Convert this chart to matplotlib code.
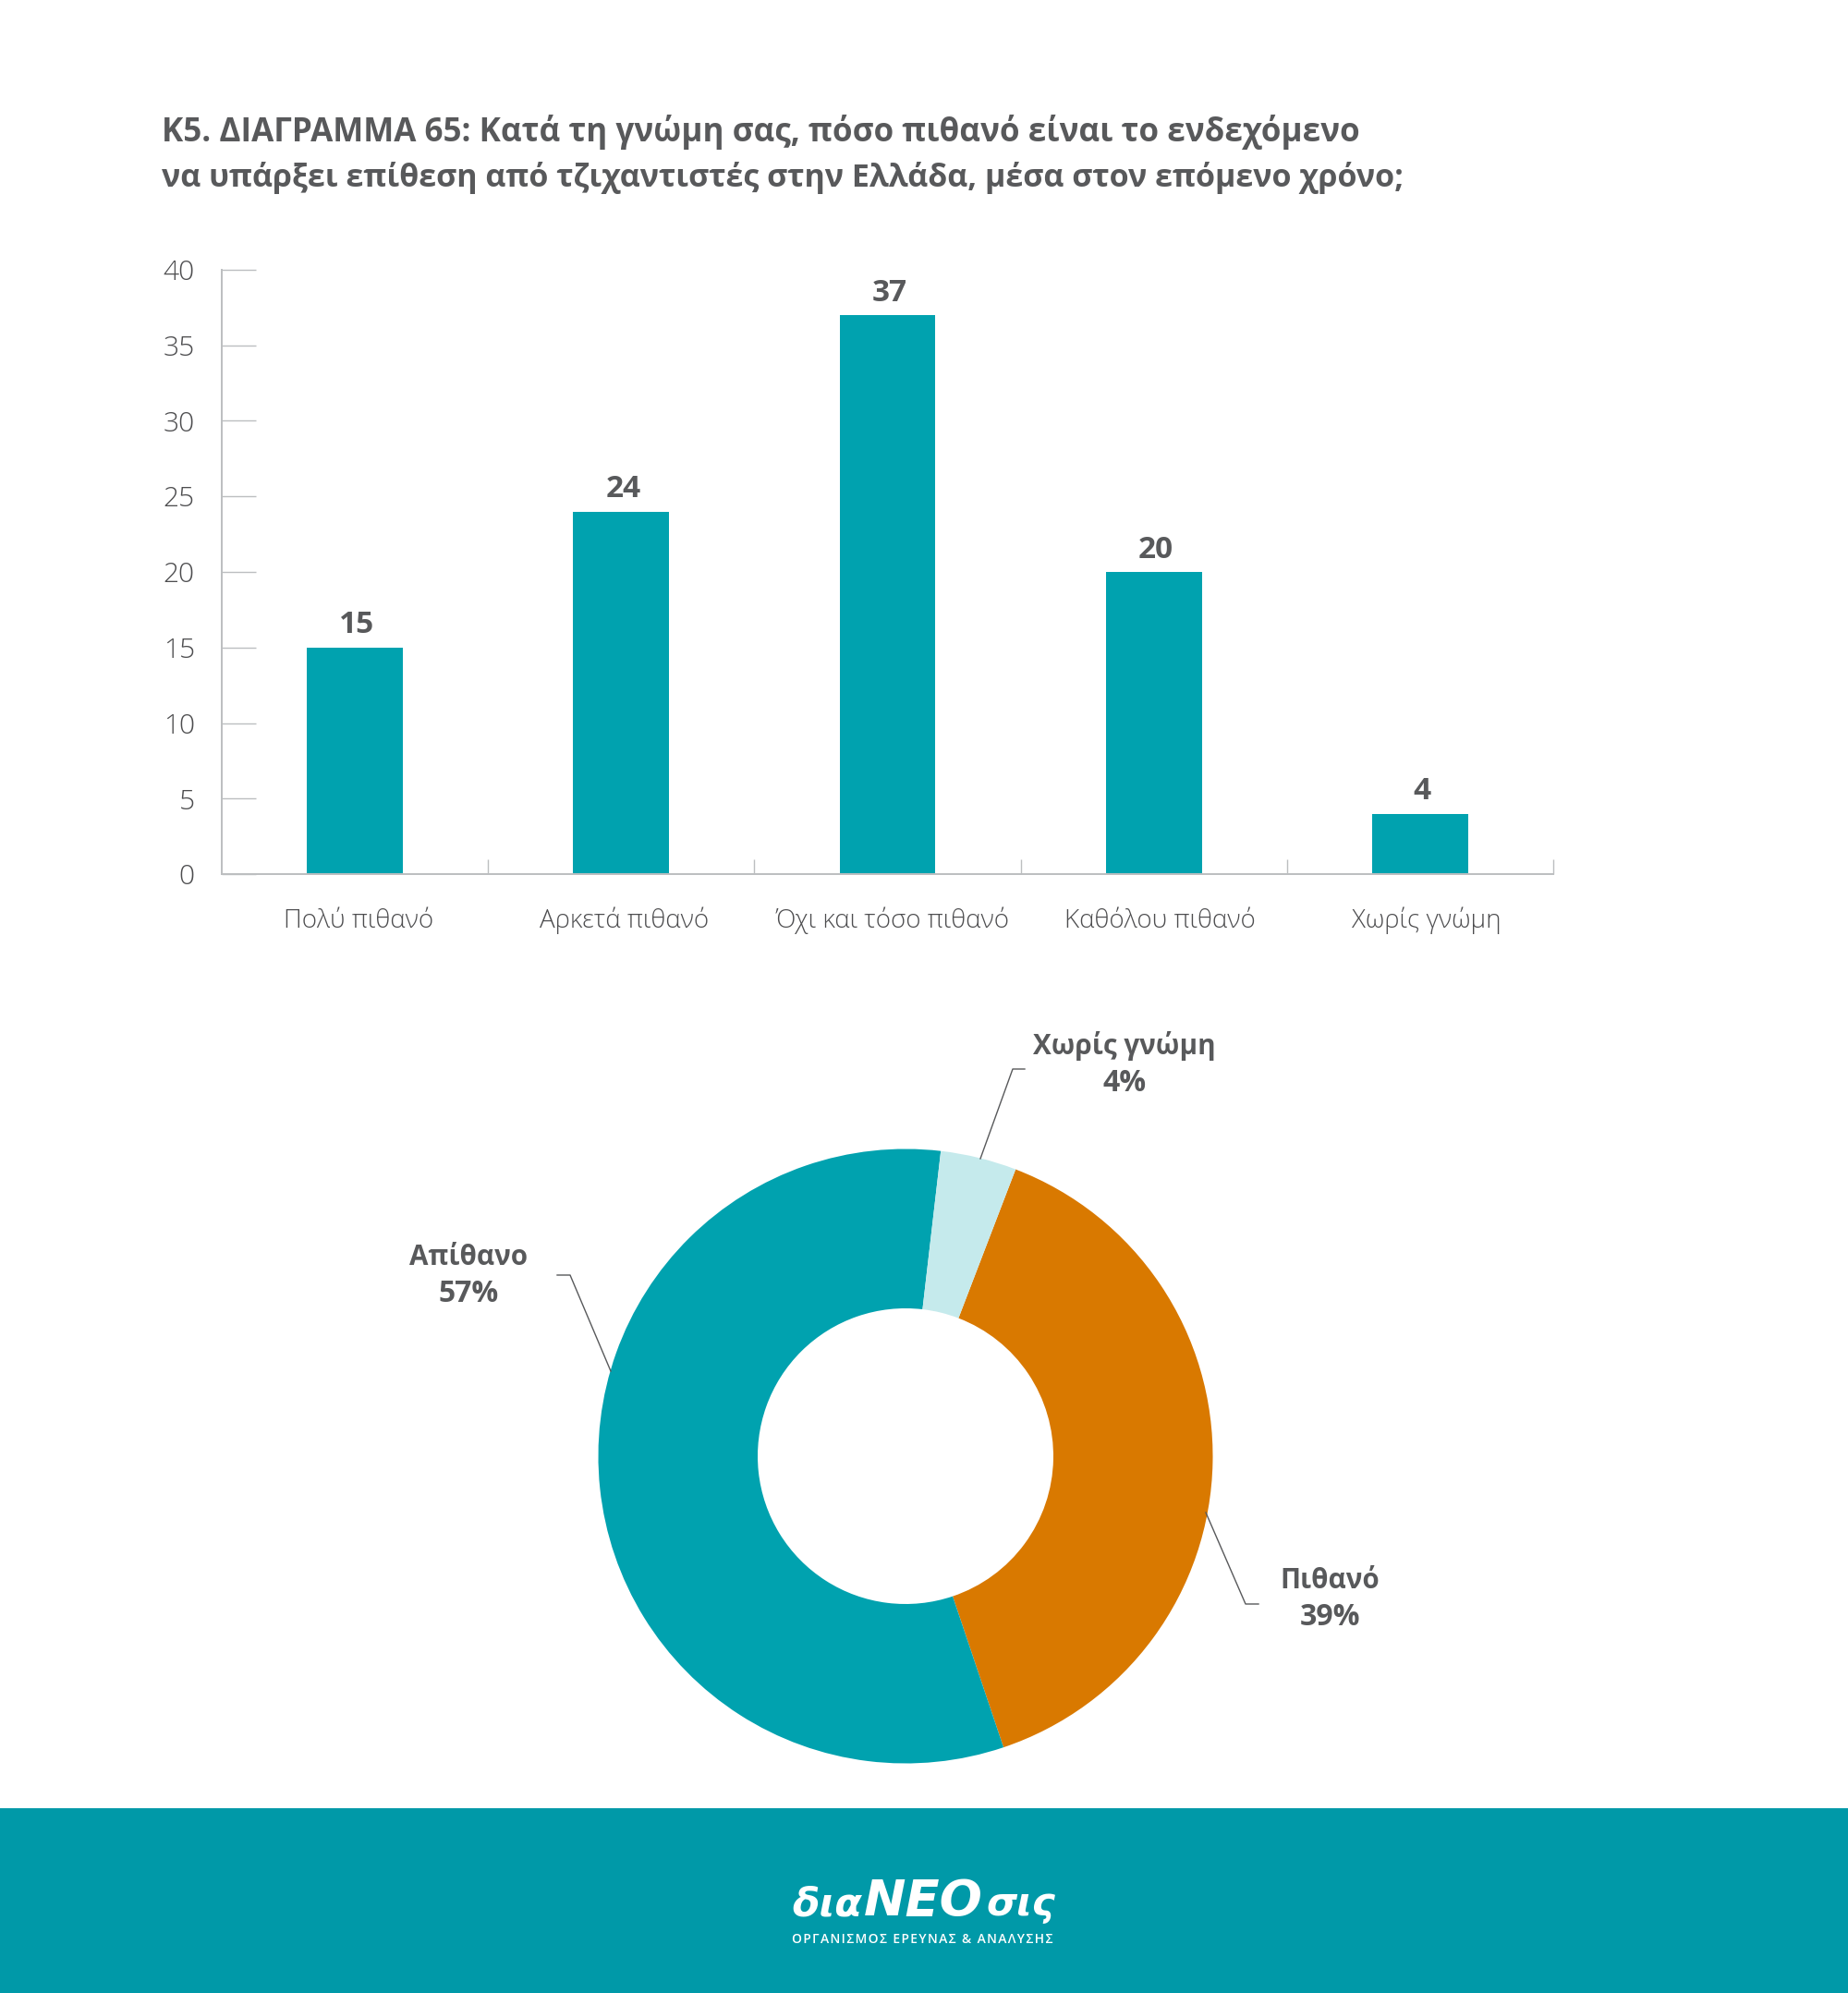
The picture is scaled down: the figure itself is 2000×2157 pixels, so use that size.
import matplotlib
matplotlib.use("Agg")
import matplotlib.pyplot as plt
from matplotlib.transforms import ScaledTranslation

W, H = 2000, 2157
DPI = 100

title_lines = ["Κ5. ΔΙΑΓΡΑΜΜΑ 65: Κατά τη γνώμη σας, πόσο πιθανό είναι το ενδεχόμενο",
               "να υπάρξει επίθεση από τζιχαντιστές στην Ελλάδα, μέσα στον επόμενο χρόνο;"]
categories = ["Πολύ πιθανό", "Αρκετά πιθανό", "Όχι και τόσο πιθανό", "Καθόλου πιθανό", "Χωρίς γνώμη"]
bar_values = [15, 24, 37, 20, 4]
y_ticks = [0, 5, 10, 15, 20, 25, 30, 35, 40]
pie_labels = ["Πιθανό", "Απίθανο", "Χωρίς γνώμη"]
pie_values = [39, 57, 4]

TEXT = "#58595b"
DARK = "#4d4d4f"
GRID = "#bcbec0"
TEAL = "#00a2af"
BANNER = "#0099a8"
ORANGE = "#d97900"
PALE = "#c5eaec"
FONT = "Open Sans"

fig = plt.figure(figsize=(W / DPI, H / DPI), dpi=DPI, facecolor="white")
renderer = fig.canvas.get_renderer()


def put(s, x, y, ha="left", width=None, size=20, **kw):
    t = fig.text(x / W, 1 - y / H, s, ha=ha, va="baseline", fontsize=size,
                 color=kw.pop("color", TEXT), family=kw.pop("family", FONT), **kw)
    if width is not None:
        w = t.get_window_extent(renderer).width
        t.set_fontsize(size * width / w)
    return t


def axes_px(l, t, r, b, **kw):
    return fig.add_axes([l / W, 1 - b / H, (r - l) / W, (b - t) / H], **kw)


# Title
put(title_lines[0], 175, 153, width=1297, weight="bold")
put(title_lines[1], 175, 202, width=1344, weight="bold")

# Bars
ax = axes_px(240, 292, 1681, 946)
x = list(range(len(categories)))
ax.bar(x, bar_values, width=0.36, color=TEAL)
ax.set_xlim(-0.5, 4.5)
ax.set_ylim(0, 40)
for s in ("top", "right"):
    ax.spines[s].set_visible(False)
for s in ("left", "bottom"):
    ax.spines[s].set_color(GRID)
    ax.spines[s].set_linewidth(1.4)
ax.set_yticks(y_ticks)
ax.set_yticklabels([str(v) for v in y_ticks], fontsize=21.5, color=DARK, family=FONT, weight="light")
ax.tick_params(axis="y", direction="in", length=26.5, width=1.0, color=GRID, pad=21)
ax.set_xticks([i + 0.5 for i in x])
ax.set_xticklabels([])
ax.tick_params(axis="x", which="major", direction="in", length=11.5, width=1.0, color=GRID)
ax.set_xticks(x, minor=True)
ax.set_xticklabels(categories, minor=True, fontsize=20, color=DARK, family=FONT, weight="light", va="baseline")
ax.tick_params(axis="x", which="minor", length=0, pad=42)
label_nudge_px = [4, 3, 6, 7, 7]
for lab, dx in zip(ax.get_xticklabels(minor=True), label_nudge_px):
    lab.set_transform(lab.get_transform() + ScaledTranslation(dx / DPI, 0, fig.dpi_scale_trans))
for xi, v in zip(x, bar_values):
    ax.annotate(str(v), (xi, v), xytext=(1.5, 11), textcoords="offset points", ha="center", va="baseline",
                fontsize=24, weight="bold", color=TEXT, family=FONT)

# Donut
R = 332.5
cx, cy = 980, 1576
pax = axes_px(cx - R, cy - R, cx + R, cy + R)
pax.pie(pie_values, colors=[ORANGE, TEAL, PALE], startangle=69, counterclock=False, radius=1,
        wedgeprops=dict(width=1 - 160 / R, linewidth=0))
pax.set_xlim(-1, 1)
pax.set_ylim(-1, 1)
pax.set_aspect("equal")
pax.axis("off")

# Overlay in pixel coordinates for leaders
ov = axes_px(0, 0, W, H)
ov.set_xlim(0, W)
ov.set_ylim(H, 0)
ov.axis("off")
ov.patch.set_alpha(0)
leaders = [([1061, 1096, 1109], [1254, 1157, 1157]),
           ([661, 617, 603], [1484, 1380, 1380]),
           ([1305, 1348, 1362], [1637, 1736, 1736])]
for lx, ly in leaders:
    ov.plot(lx, ly, color="#58595b", lw=1.0)

pie_pos = {"Χωρίς γνώμη": (1217, 1141), "Απίθανο": (507, 1369), "Πιθανό": (1439, 1719)}
for name, v in zip(pie_labels, pie_values):
    px, py = pie_pos[name]
    put(name, px, py, ha="center", size=21.3, weight="bold")
    put(f"{v}%", px, py + 40, ha="center", size=23, weight="bold")

# Banner
ov.add_patch(plt.Rectangle((0, 1957), W, H - 1957, color=BANNER, lw=0))
LOGO = dict(family="Liberation Sans Narrow", style="italic", weight="bold", color="white")
put("δια", 857, 2073, width=76, **LOGO)
put("ΝΕΟ", 935, 2073, width=129, **LOGO)
put("σις", 1067, 2073, width=75, **LOGO)
put("\u200a".join("ΟΡΓΑΝΙΣΜΟΣ ΕΡΕΥΝΑΣ & ΑΝΑΛΥΣΗΣ"), 857, 2103, width=285, color="white", weight="semibold")

fig.savefig("out.png", dpi=DPI, facecolor="white")
